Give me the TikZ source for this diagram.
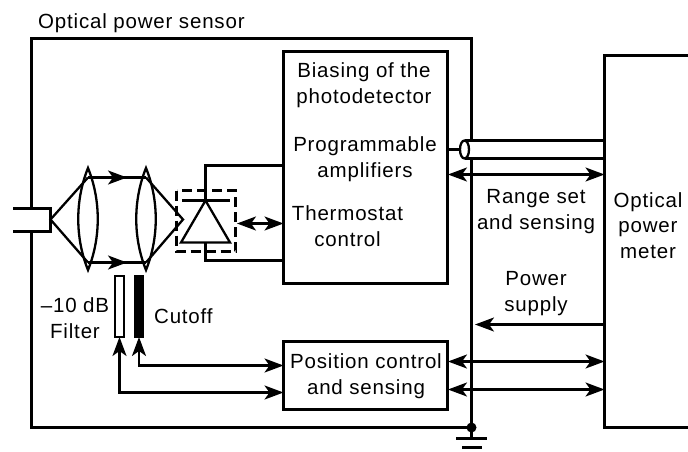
\documentclass[tikz,border=0pt]{standalone}
\usepackage{fontspec}
\setmainfont[LetterSpace=4]{Liberation Sans}
\usetikzlibrary{arrows.meta}
\tikzset{>={Stealth[length=19pt,width=14pt,inset=5pt]}}
\tikzset{wire/.style={line width=2.3pt}}
\tikzset{block/.style={draw,line width=2.3pt,anchor=north west,inner sep=0pt,outer sep=0pt}}
\tikzset{label/.style={align=center,inner sep=0pt,anchor=base,font=\fontsize{20.5}{25.5}\selectfont}}

\begin{document}
\begin{tikzpicture}[line cap=butt,line join=miter,x=1pt,y=-1pt,wire]
	\useasboundingbox (0,0) rectangle (688,451);
	% sensor outline, open at the connector
	\coordinate (sensorA) at (31.5,208);
	\coordinate (sensorB) at (31.5,38.5);
	\coordinate (sensorC) at (471.5,38.5);
	\coordinate (sensorD) at (471.5,427.5);
	\coordinate (sensorE) at (31.5,427.5);
	\coordinate (sensorF) at (31.5,231);
	\draw (sensorA)-- (sensorB)-- (sensorC)-- (sensorD)-- (sensorE)-- (sensorF);
	% meter, cut by the page edge
	\coordinate (meterA) at (688,55.5);
	\coordinate (meterB) at (604.5,55.5);
	\coordinate (meterC) at (604.5,427.5);
	\coordinate (meterD) at (688,427.5);
	% blocks
	\node[block,minimum width=164pt,minimum height=232pt] (bias) at (283.5,51.5) {};
	\node[block,minimum width=164pt,minimum height=68pt] (position) at (283.5,341.5) {};
	\node[block,line width=1.5pt,minimum width=9pt,minimum height=61pt] (filter) at (115,276) {};
	\node[block,line width=1.5pt,fill=black,minimum width=9pt,minimum height=61pt] (cutoff) at (134.5,276) {};
	% connector
	\coordinate (fibreA) at (13,208.5);
	\coordinate (fibreB) at (50.5,208.5);
	\coordinate (fibreC) at (50.5,231.5);
	\coordinate (fibreD) at (13,231.5);
	\coordinate (fibreEnd) at (50.5,219.5);
	\draw (fibreA)-- (fibreB)-- (fibreC)-- (fibreD);
	% lenses
	\draw (88,168) .. controls (75,200) and (75,238) .. (88,270) .. controls (101,238) and (101,200) .. cycle;
	\draw (146,168) .. controls (133,200) and (133,238) .. (146,270) .. controls (159,238) and (159,200) .. cycle;
	% beam
	\coordinate (rayA) at (88,177.5);
	\coordinate (rayB) at (88,262.5);
	\coordinate (rayC) at (146,177.5);
	\coordinate (rayD) at (146,262.5);
	\coordinate (rayE) at (183,219.5);
	\coordinate (tipA) at (127,177.5);
	\coordinate (tipB) at (127,262.5);
	\draw (rayB)-- (fibreEnd)-- (rayA);
	\draw (rayC)-- (rayE)-- (rayD);
	\draw (rayA)-- (rayC);
	\draw (rayB)-- (rayD);
	\draw[->] (rayA)-- (tipA);
	\draw[->] (rayB)-- (tipB);
	% photodetector
	\draw[dash pattern=on 10pt off 5pt] (176.5,190.5) rectangle (235.5,251.5);
	\coordinate (diodeTop) at (205.5,200.5);
	\coordinate (diodeL) at (181,242.5);
	\coordinate (diodeR) at (230,242.5);
	\coordinate (diodeBase) at (205.5,242.5);
	\coordinate (barL) at (182,200.5);
	\coordinate (barR) at (230,200.5);
	\draw (barL)-- (barR);
	\draw (diodeTop)-- (diodeL)-- (diodeR)-- cycle;
	\coordinate (wireA) at (205.5,165.5);
	\coordinate (wireB) at (205.5,260.5);
	\draw (diodeTop)-- (wireA)-- (wireA-|bias.west);
	\draw (diodeBase)-- (wireB)-- (wireB-|bias.west);
	\coordinate (thermo) at (237,223.5);
	\draw[<->] (thermo)-- (thermo-|bias.west);
	% filter arrows
	\coordinate (cutoffBend) at (139,365.5);
	\coordinate (filterBend) at (119.5,392.5);
	\draw[<->] (cutoff.south)-- (cutoffBend)-- (cutoffBend-|position.west);
	\draw[<->] (filter.south)-- (filterBend)-- (filterBend-|position.west);
	% cable
	\coordinate (cableA) at (464.5,140.5);
	\coordinate (cableB) at (464.5,158.5);
	\coordinate (cableC) at (460,149.5);
	\fill[white] (cableA) rectangle (cableB-|meterB);
	\draw (cableA)-- (cableA-|meterB);
	\draw (cableB)-- (cableB-|meterB);
	\draw[fill=white] (464.5,149.5) ellipse (4.5pt and 9pt);
	\draw (cableC-|bias.east)-- (cableC);
	\draw (meterA)-- (meterB)-- (meterC)-- (meterD);
	% links to the meter
	\coordinate (rangeLink) at (448,174.5);
	\coordinate (powerEnd) at (475,324.5);
	\coordinate (posLinkA) at (448,361.5);
	\coordinate (posLinkB) at (448,389.5);
	\draw[<->] (rangeLink)-- (rangeLink-|meterB);
	\draw[->] (powerEnd-|meterB)-- (powerEnd);
	\draw[<->] (posLinkA)-- (posLinkA-|meterB);
	\draw[<->] (posLinkB)-- (posLinkB-|meterB);
	% ground
	\coordinate (groundA) at (471.5,438.5);
	\coordinate (groundB) at (456,438.5);
	\coordinate (groundC) at (487,438.5);
	\coordinate (groundD) at (462,447.5);
	\coordinate (groundE) at (482,447.5);
	\fill (sensorD) circle (5pt);
	\draw (sensorD)-- (groundA);
	\draw (groundB)-- (groundC);
	\draw (groundD)-- (groundE);
	% texts
	\node[label,anchor=base west] (sensorText) at (37,28) {Optical power sensor};
	\node[label] (biasText) at (364,103) {Biasing of the\\photodetector};
	\node[label] (ampText) at (365,177) {Programmable\\amplifiers};
	\node[label] (thermoText) at (347.5,246) {Thermostat\\control};
	\node[label] (rangeText) at (536,229) {Range set\\and sensing};
	\node[label] (meterText) at (648,258) {Optical\\power\\meter};
	\node[label] (powerText) at (536,311) {Power\\supply};
	\node[label] (filterText) at (75,338) {--10 dB\\Filter};
	\node[label,anchor=base west] (cutoffText) at (153,323) {Cutoff};
	\node[label] (positionText) at (366,394) {Position control\\and sensing};
\end{tikzpicture}
\end{document}
